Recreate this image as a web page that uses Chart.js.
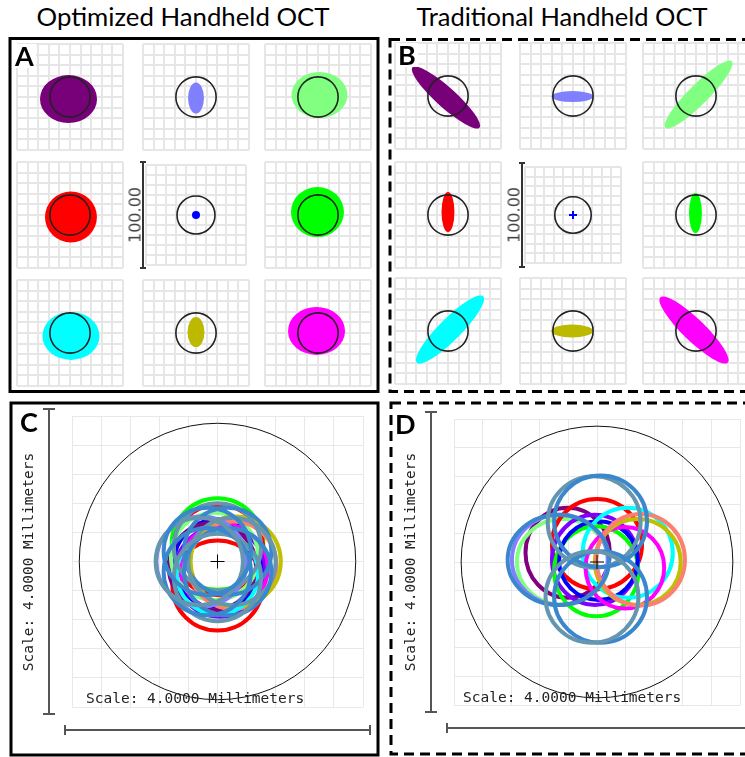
<!DOCTYPE html>
<html><head><meta charset="utf-8">
<script src="https://cdn.jsdelivr.net/npm/chart.js@4.4.0/dist/chart.umd.min.js"></script>
<style>
html,body{margin:0;padding:0;background:#fff;}
body{width:745px;height:757px;position:relative;overflow:hidden;font-family:Lato,"Open Sans",sans-serif;}
svg{position:absolute;left:0;top:0;}
canvas{position:absolute;}
.title{position:absolute;font-size:22px;line-height:26px;color:#000;white-space:nowrap;transform:translateX(-50%);}
.lbl{position:absolute;font-weight:bold;font-size:27px;line-height:24px;background:#fff;padding:0 2px;color:#000;}
.num{position:absolute;font-family:"DejaVu Sans";font-size:16px;color:#444;transform:translate(-50%,-50%) rotate(-90deg);white-space:nowrap;}
.mono{position:absolute;font-family:"DejaVu Sans Mono";font-size:14.5px;color:#222;white-space:nowrap;line-height:16px;}
.vmono{transform:translate(-50%,-50%) rotate(-90deg);}
</style></head><body>

<svg width="745" height="757">
  <rect x="10" y="38.5" width="368" height="353" fill="none" stroke="#000" stroke-width="3"/>
  <rect x="390" y="39.5" width="420" height="352" fill="none" stroke="#000" stroke-width="3" stroke-dasharray="10 6"/>
  <rect x="11" y="403" width="367" height="352" fill="none" stroke="#000" stroke-width="3"/>
  <rect x="391" y="403" width="420" height="351" fill="none" stroke="#000" stroke-width="3" stroke-dasharray="10 6"/>
  <g stroke="#333" stroke-width="2" fill="none">
    <line x1="143" y1="162" x2="143" y2="268"/><line x1="140" y1="162" x2="146" y2="162"/><line x1="140" y1="268" x2="146" y2="268"/>
    <line x1="522" y1="163" x2="522" y2="267"/><line x1="519" y1="163" x2="525" y2="163"/><line x1="519" y1="267" x2="525" y2="267"/>
  </g>
  <g stroke="#555" stroke-width="2" fill="none">
    <line x1="49" y1="409" x2="49" y2="714"/><line x1="43" y1="409" x2="55" y2="409"/><line x1="43" y1="714" x2="55" y2="714"/>
    <line x1="65" y1="730" x2="370" y2="730"/><line x1="65" y1="725" x2="65" y2="735"/><line x1="370" y1="725" x2="370" y2="735"/>
    <line x1="431" y1="412" x2="431" y2="712"/><line x1="425" y1="412" x2="437" y2="412"/><line x1="425" y1="712" x2="437" y2="712"/>
    <line x1="447" y1="728" x2="760" y2="728"/><line x1="447" y1="723" x2="447" y2="733"/>
  </g>
</svg>

<div class="title" id="t1" style="left:183px;top:3px;">Optimized Handheld OCT</div>
<div class="title" id="t2" style="left:562px;top:3px;">Traditional Handheld OCT</div>

<div id="charts"></div>

<div class="lbl" style="left:13px;top:44px;">A</div>
<div class="lbl" style="left:396px;top:43px;">B</div>
<div class="lbl" style="left:18px;top:410px;">C</div>
<div class="lbl" style="left:393px;top:412px;">D</div>

<div class="num" style="left:135px;top:215px;">100.00</div>
<div class="num" style="left:514px;top:215px;">100.00</div>

<div class="mono" style="left:86px;top:690px;">Scale: 4.0000 Millimeters</div>
<div class="mono vmono" style="left:28px;top:562px;">Scale: 4.0000 Millimeters</div>
<div class="mono" style="left:463px;top:689px;">Scale: 4.0000 Millimeters</div>
<div class="mono vmono" style="left:410px;top:562px;">Scale: 4.0000 Millimeters</div>

<script>
// ---------- data ----------
// 3x3 spot order: row by row (top-left .. bottom-right)
const spotColors = ['#780078','#8080ff','#80ff80','#ff0000','#0000ff','#00ff00','#00ffff','#bdb900','#ff00ff'];
const refCircleR = 19;          // reference circle radius (subplot units, 100 units per subplot)
// Panel A: optimized spots (ellipse approximations) centre offset & radii
const aBlobCx = [-1.4, 0.0, 1.4, 0.9, 0, -0.5, 0.9, 0.0, -1.4];
const aBlobCy = [-1.9, -0.9, 1.9, -1.9, 0, 2.8, -2.8, 0.9, 1.9];
const aBlobRx = [26.9, 7.5, 26.4, 24.5, 0, 25.0, 26.9, 8.0, 26.9];
const aBlobRy = [22.6, 14.6, 21.7, 24.0, 0, 23.6, 22.6, 14.2, 22.6];
// Panel B: traditional spots (elongated ellipses)
const bSpotCx = [-1.9, -0.5, 2.4, 0.0, 0, -0.5, 1.9, -0.9, -1.9];
const bSpotCy = [-1.4, -0.5, 1.4, 2.8, 0, 1.9, 1.4, 0.0, 0.9];
const bSpotMajor = [42.5, 19.8, 44.3, 18.9, 0, 18.9, 44.3, 19.8, 44.3];
const bSpotMinor = [9.4, 5.2, 9.4, 6.1, 0, 6.1, 10.4, 6.1, 10.4];
const bSpotAngle = [-42, 0, 45, 90, 0, 90, 45, 0, -44];

// Panel C rings (mm)
const bigCircleR = 1.9;
const cRingColors = ['#00ff00','#ff0000','#ff0000','#0000ff','#8000ff','#ff00ff','#800080','#80ff80','#fa8072','#c0c000','#8080ff','#00ffff',
  '#6496af','#3a87cd','#6496af','#3a87cd','#6496af','#3a87cd','#6496af','#3a87cd'];
const cRingX = [0, 0.01, 0, 0.01, 0.04, 0.09, -0.07, -0.04, 0.21, 0.25, -0.22, 0, 0, 0.14, 0.2, 0.14, 0, -0.14, -0.25, -0.14];
const cRingY = [0.24, 0.16, -0.33, -0.03, -0.14, -0.09, -0.07, 0.07, -0.05, 0, 0, -0.17, 0.2, 0.14, 0, -0.14, -0.22, -0.14, 0, 0.14];
const cRingR = [0.63, 0.62, 0.62, 0.61, 0.62, 0.6, 0.6, 0.6, 0.6, 0.62, 0.62, 0.56, 0.6, 0.6, 0.6, 0.6, 0.6, 0.6, 0.6, 0.6];

// Panel D rings (mm)
const dRingColors = ['#800080','#80ff80','#8080ff','#ff0000','#8000ff','#00ff00','#0000ff','#00ffff','#ff00ff','#c0c000','#fa8072',
  '#3a87cd','#6496af','#3a87cd','#3a87cd','#6496af'];
const dRingX  = [-0.41, -0.48, -0.52, 0, -0.03, -0.01, 0.02, 0.43, 0.39, 0.57, 0.61, -0.54, -0.04, 0.05, 0.05, -0.07];
const dRingY  = [0.13, 0, 0.03, 0.25, 0.03, -0.13, 0.02, 0.13, -0.08, 0, 0.03, 0.03, 0.56, 0.57, -0.49, -0.49];
const dRingRx = [0.59, 0.64, 0.67, 0.63, 0.6, 0.59, 0.55, 0.63, 0.55, 0.6, 0.62, 0.71, 0.65, 0.65, 0.65, 0.65];
const dRingRy = [0.63, 0.6, 0.63, 0.63, 0.63, 0.63, 0.55, 0.63, 0.57, 0.6, 0.64, 0.63, 0.64, 0.64, 0.64, 0.64];

// ---------- layout ----------
const aCols = [17, 143, 265], aRows = [44, 162, 280];
const bCols = [395, 520, 643], bRows = [43, 162, 278];
const subSize = 106;

function shapesPlugin(items){
  return {id:'shapes', beforeDatasetsDraw(chart){
    const ctx = chart.ctx, xs = chart.scales.x, ys = chart.scales.y;
    const ux = xs.getPixelForValue(1) - xs.getPixelForValue(0);
    const uy = ys.getPixelForValue(0) - ys.getPixelForValue(1);
    for (const s of items){
      const px = xs.getPixelForValue(s.cx), py = ys.getPixelForValue(s.cy);
      ctx.save(); ctx.beginPath();
      ctx.ellipse(px, py, s.rx*ux, s.ry*uy, -s.angle*Math.PI/180, 0, 2*Math.PI);
      if (s.fill){ ctx.fillStyle = s.fill; ctx.fill(); }
      if (s.stroke){ ctx.strokeStyle = s.stroke; ctx.lineWidth = s.lw; ctx.stroke(); }
      ctx.restore();
    }
  }};
}

function axis(min, max, color, lw){
  return {type:'linear', min, max, ticks:{display:false, count:11}, grid:{color, lineWidth:lw, drawTicks:false}, border:{display:false}};
}

function makeChart(left, top, size, min, max, gColor, gLw, items, datasets){
  const cv = document.createElement('canvas');
  cv.width = size + 2; cv.height = size + 2;
  cv.style.left = (left - 1) + 'px'; cv.style.top = (top - 1) + 'px';
  cv.style.width = (size + 2) + 'px'; cv.style.height = (size + 2) + 'px';
  document.getElementById('charts').appendChild(cv);
  new Chart(cv, {
    type:'scatter',
    data:{datasets},
    options:{responsive:false, animation:false, events:[], layout:{padding:1},
      plugins:{legend:{display:false}, tooltip:{enabled:false}},
      scales:{x:axis(min,max,gColor,gLw), y:axis(min,max,gColor,gLw)}},
    plugins:[shapesPlugin(items)]
  });
}

// Panel A & B subplots
for (let i = 0; i < 9; i++){
  const r = Math.floor(i/3), c = i%3;
  // A
  let items = [], ds = [];
  if (i === 4){
    ds = [{data:[{x:0,y:0}], pointStyle:'circle', pointRadius:4, backgroundColor:spotColors[i], borderWidth:0}];
  } else {
    items.push({cx:aBlobCx[i], cy:aBlobCy[i], rx:aBlobRx[i], ry:aBlobRy[i], angle:0, fill:spotColors[i]});
  }
  items.push({cx:0, cy:0, rx:refCircleR, ry:refCircleR, angle:0, stroke:'#222', lw:1.6});
  makeChart(aCols[c], aRows[r], subSize, -50, 50, '#e6e6e6', 2, items, ds);
  // B
  items = []; ds = [];
  if (i === 4){
    ds = [{data:[{x:0,y:0}], pointStyle:'cross', pointRadius:4, borderColor:spotColors[i], borderWidth:2}];
  } else {
    items.push({cx:bSpotCx[i], cy:bSpotCy[i], rx:bSpotMajor[i], ry:bSpotMinor[i], angle:bSpotAngle[i], fill:spotColors[i]});
  }
  items.push({cx:0, cy:0, rx:refCircleR, ry:refCircleR, angle:0, stroke:'#222', lw:1.6});
  makeChart(bCols[c], bRows[r], subSize, -50, 50, '#e6e6e6', 2, items, ds);
}

// Panel C
{
  const items = [{cx:0, cy:0, rx:bigCircleR, ry:bigCircleR, angle:0, stroke:'#111', lw:1}];
  cRingColors.forEach((col,k)=>items.push({cx:cRingX[k], cy:cRingY[k], rx:cRingR[k], ry:cRingR[k], angle:0, stroke:col, lw: 4}));
  const ds = [{data:[{x:0,y:0}], pointStyle:'cross', pointRadius:7, borderColor:'#000', borderWidth:1}];
  makeChart(65, 409, 305, -2, 2, '#e8e8e8', 1, items, ds);
}
// Panel D
{
  const items = [{cx:0, cy:0, rx:bigCircleR, ry:bigCircleR, angle:0, stroke:'#111', lw:1}];
  dRingColors.forEach((col,k)=>items.push({cx:dRingX[k], cy:dRingY[k], rx:dRingRx[k], ry:dRingRy[k], angle:0, stroke:col, lw: 4}));
  const ds = [{data:[{x:0,y:0}], pointStyle:'cross', pointRadius:7, borderColor:'#000', borderWidth:1}];
  makeChart(447, 412, 300, -2, 2, '#e8e8e8', 1, items, ds);
}

// fit title widths to the reference
[['t1',293],['t2',291]].forEach(([id,w])=>{
  const el = document.getElementById(id);
  const cur = el.getBoundingClientRect().width;
  if (cur > 0) el.style.fontSize = (22*w/cur).toFixed(2) + 'px';
});
</script>
</body></html>
